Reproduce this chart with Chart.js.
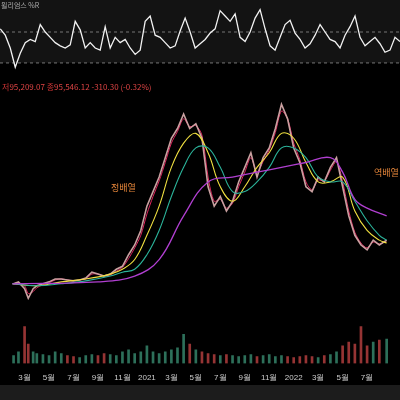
<!DOCTYPE html><html><head><meta charset="utf-8">
<script src="https://cdn.jsdelivr.net/npm/chart.js@4"></script>
<style>
body{margin:0;background:#000;width:400px;height:400px;overflow:hidden;position:relative;font-family:"Noto Sans CJK KR",sans-serif}
#top{position:absolute;left:0;top:0;width:400px;height:80px;background:#131313}
#main{position:absolute;left:0;top:80px;width:400px;height:305px}
#foot{position:absolute;left:0;top:385px;width:400px;height:15px;background:#1c1c1c}
canvas{display:block}
.t{position:absolute;font-size:8px;white-space:nowrap}
</style></head><body>
<div id="top"><canvas id="c1" width="400" height="80"></canvas></div>
<div id="main"><canvas id="c2" width="400" height="305"></canvas></div>
<div id="foot"></div>
<div class="t" style="left:1px;top:0px;color:#aaa;font-size:7px">윌리엄스 %R</div>
<div class="t" style="left:2px;top:81px;color:#c33">저<span style="color:#d44">95,209.07</span> 종<span style="color:#d44">95,546.12</span> <span style="color:#d44">-310.30 (-0.32%)</span></div>
<div class="t" style="left:111px;top:181px;color:#e8873a;font-size:9px">정배열</div>
<div class="t" style="left:374px;top:166px;color:#e8873a;font-size:9px">역배열</div>
<script>
const months=[1.1,1.5,2,2.3,2.7,3,3.5,4,4.5,5,5.5,6,6.5,7,7.5,8,8.5,9,9.5,10,10.5,11,11.5,12,12.5,13,13.5,14,14.5,15,15.5,16,16.5,17,17.5,18,18.5,19,19.5,20,20.5,21,21.5,22,22.5,23,23.5,24,24.5,25,25.5,26,26.5,27,27.5,28,28.5,29,29.5,30,30.5,31,31.6];
const price=[40,42,35,25,35,38,40,42,45,45,44,43,44,46,52,50,48,50,55,58,70,80,95,120,135,150,170,190,200,215,200,205,190,140,120,130,115,125,145,160,175,150,170,180,200,225,210,180,165,140,135,150,145,160,170,140,110,90,80,75,85,80,85];
const fastMA=[40,41,38,30,32,36,39,41,44,45,44,43,44,45,50,50,48,49,53,57,66,77,90,112,130,146,165,185,197,210,202,203,193,150,125,127,118,123,140,155,170,155,166,178,196,218,210,185,168,145,137,147,146,157,166,145,115,93,82,77,83,81,84];
const maM=[1,3,5,7,9,10,11,12,13,14,15,16,17,18,19,20,21,22,23,24,25,26,27,28,29,30,31,31.6];
const yellowMA=[40,38,42,45,50,55,65,90,120,160,185,195,175,140,125,140,160,175,195,190,165,145,145,150,115,95,85,82];
const tealMA=[40,38,40,43,48,52,55,70,95,130,160,180,180,160,135,135,145,160,180,180,170,150,145,145,125,105,90,85];
const purpM=[1,8,11,13,15,17,19,21,23,25,27,28,29,30,31.6];
const purpleMA=[40,42,48,65,110,145,150,155,160,165,170,155,127,118,110];
const volume=[8,12,38,20,12,10,9,8,12,10,8,7,6,8,9,8,10,9,8,12,14,10,12,18,12,10,12,14,16,30,20,14,12,10,9,8,9,8,7,8,9,7,8,9,7,8,7,6,7,8,7,6,8,9,12,18,22,20,38,18,22,24,25];
const osc=[48,42,30,12,25,35,38,36,52,45,40,35,32,30,33,55,47,30,35,30,28,50,30,40,35,38,30,24,28,55,60,42,40,35,30,32,46,58,45,30,34,38,44,48,65,60,55,62,40,36,45,58,66,48,32,28,40,52,56,44,38,30,34,42,52,45,38,36,30,42,50,60,40,32,36,40,34,26,28,40,36];
const oscX=osc.map((v,i)=>1.1+i*(30.5/(osc.length-1)));
const pts=(xs,ys)=>xs.map((x,i)=>({x,y:ys[i]}));
const xr={type:'linear',min:1.08,max:31.6};
new Chart(document.getElementById('c1'),{type:'line',data:{datasets:[
 {data:pts(oscX,osc),borderColor:'#f2f2f2',borderWidth:1.3,pointRadius:0,tension:0}]},
 options:{responsive:false,animation:false,devicePixelRatio:1,plugins:{legend:{display:false},tooltip:{enabled:false}},layout:{padding:0},
 scales:{x:{...xr,display:false},y:{min:0,max:75,display:false}}},
 plugins:[{id:'bands',beforeDatasetsDraw(c){const g=c.ctx,y=c.scales.y;g.save();g.fillStyle='#000';g.fillRect(0,y.getPixelForValue(16),400,80);
 g.strokeStyle='#777';g.setLineDash([3,3]);g.lineWidth=1;[45,16].forEach(v=>{const p=y.getPixelForValue(v);g.beginPath();g.moveTo(0,p);g.lineTo(400,p);g.stroke();});g.restore();}}]});
const vcol=price.map((p,i)=>i>0&&p<price[i-1]?'rgba(200,70,70,0.75)':'rgba(60,150,120,0.75)');
new Chart(document.getElementById('c2'),{data:{datasets:[
 {type:'bar',data:pts(months,volume),yAxisID:'yv',backgroundColor:vcol,barThickness:2,order:5},
 {type:'line',data:pts(purpM,purpleMA),borderColor:'#b03fd0',borderWidth:1.3,pointRadius:0,tension:0.4},
 {type:'line',data:pts(maM,tealMA),borderColor:'#2bb39a',borderWidth:1.1,pointRadius:0,tension:0.4},
 {type:'line',data:pts(maM,yellowMA),borderColor:'#f0e040',borderWidth:1.1,pointRadius:0,tension:0.4},
 {type:'line',data:pts(months,price),borderColor:'#c9a0a0',borderWidth:1.6,pointRadius:0,tension:0},
 {type:'line',data:pts(months,fastMA),borderColor:'#e0245e',borderWidth:1,pointRadius:0,tension:0.3}]},
 options:{responsive:false,animation:false,devicePixelRatio:1,plugins:{legend:{display:false},tooltip:{enabled:false}},layout:{padding:0},
 scales:{x:{...xr,grid:{display:false},border:{display:false},afterBuildTicks(a){a.ticks=[];for(let m=2;m<=31;m+=2)a.ticks.push({value:m});},
  ticks:{color:'#ccc',font:{size:8},maxRotation:0,autoSkip:false,padding:2,callback:v=>v%12===0?String(2020+v/12):((v%12)+1)+'월'}},
  y:{min:-42,max:250,display:false},yv:{min:0,max:292,display:false}}}});
</script></body></html>
